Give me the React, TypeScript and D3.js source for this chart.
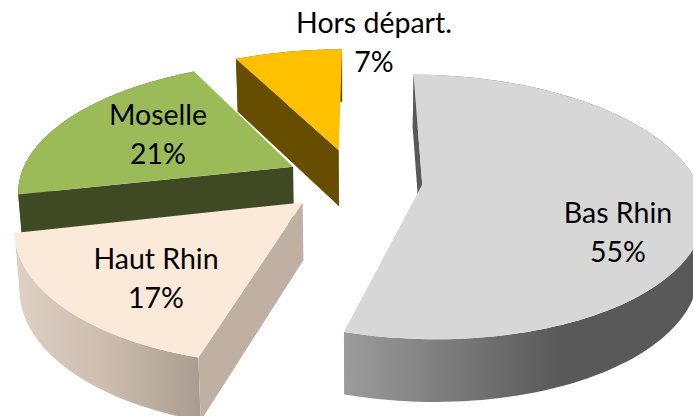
import React from "react";
import * as d3 from "d3";

const W = 693, H = 416;
const categories = ["Bas Rhin", "Haut Rhin", "Moselle", "Hors départ."];
const shares = [55, 17, 21, 7];
const sweepWeights = [54.4, 17, 21, 7.6];
const topColors = ["#d7d7d7", "#fbe9d9", "#9bbb59", "#ffc000"];
const radialColors = ["#595959", "#c0b0a3", "#3f4a24", "#664d00"];
const labelX = [618, 156, 158, 374];
const labelY = [223, 269, 125, 33];

const X0 = 354, Y0 = 180, RX = 274, RY = 127, K = 0.168, EXPLODE = 0.25;
const toRad = (d: number) => (d * Math.PI) / 180;

type P = [number, number];
const project = (u: number, v: number, low: boolean): P => {
  const s = 1 / (1 - K * v);
  const x = X0 + RX * u * s;
  const y = Y0 + RY * v * s;
  if (!low) return [x, y];
  return [X0 + (x - X0) * 0.985, y + 30 + 27 * s];
};

const pieGen = d3
  .pie<number>()
  .sort(null)
  .startAngle(toRad(0.3))
  .endAngle(toRad(360.3));
const slices = pieGen(sweepWeights);
const line = d3.line<P>();

export default function App() {
  const parts = slices.map((sl) => {
    const mid = (sl.startAngle + sl.endAngle) / 2;
    const cu = EXPLODE * Math.sin(mid);
    const cv = -EXPLODE * Math.cos(mid);
    const rim = (low: boolean): P[] =>
      d3.range(0, 121).map((j) => {
        const a = sl.startAngle + ((sl.endAngle - sl.startAngle) * j) / 120;
        return project(cu + Math.sin(a), cv - Math.cos(a), low);
      });
    const topRim = rim(false);
    const lowRim = rim(true);
    const apexT = project(cu, cv, false);
    const apexL = project(cu, cv, true);
    return {
      top: line([apexT, ...topRim])! + "Z",
      outer: line([...topRim, ...lowRim.slice().reverse()])! + "Z",
      radial: line([apexT, topRim[0], lowRim[0], apexL])! + "Z",
    };
  });
  const outerFill = ["url(#gBas)", "url(#gHaut)", "#3f4a24", "#664d00"];
  const order = [3, 2, 1, 0];
  const font = "Lato, 'Open Sans', sans-serif";
  return (
    <svg
      width={W}
      height={H}
      viewBox={`0 0 ${W} ${H}`}
      style={{ position: "absolute", left: 0, top: 0, background: "#fff" }}
    >
      <defs>
        <linearGradient id="gBas" x1="0" x2="1" y1="0" y2="0">
          <stop offset="0" stopColor="#9c9c9c" />
          <stop offset="0.6" stopColor="#595959" />
          <stop offset="1" stopColor="#595959" />
        </linearGradient>
        <linearGradient id="gHaut" x1="0" x2="1" y1="0" y2="0">
          <stop offset="0" stopColor="#ded0c3" />
          <stop offset="0.5" stopColor="#cbbcae" />
          <stop offset="1" stopColor="#a99c90" />
        </linearGradient>
      </defs>
      {order.map((i) => (
        <g key={categories[i]}>
          <path d={parts[i].outer} fill={outerFill[i]} />
          <path d={parts[i].radial} fill={radialColors[i]} />
          <path d={parts[i].top} fill={topColors[i]} />
        </g>
      ))}
      {categories.map((c, i) => (
        <g key={c} fontFamily={font} fontSize={28.5} textAnchor="middle" fill="#000">
          <text x={labelX[i]} y={labelY[i]}>{c}</text>
          <text x={labelX[i]} y={labelY[i] + 39}>{shares[i]}%</text>
        </g>
      ))}
    </svg>
  );
}
